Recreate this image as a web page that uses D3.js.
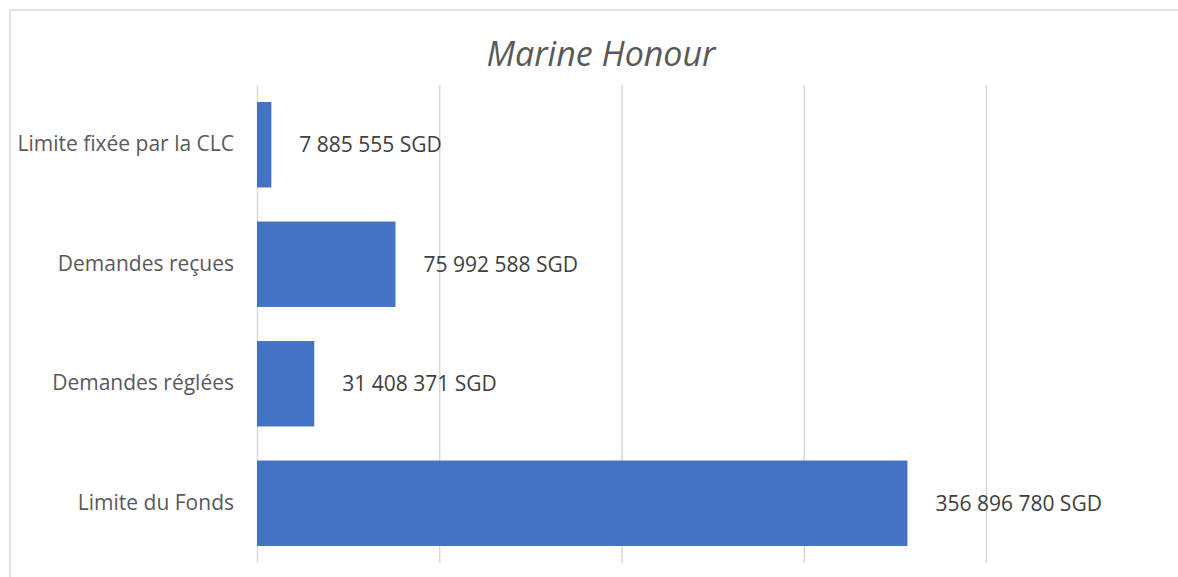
<!DOCTYPE html>
<html>
<head>
<meta charset="utf-8">
<script src="https://cdn.jsdelivr.net/npm/d3@7"></script>
<style>
  body { margin: 0; background: #fff; }
  svg { display: block; font-family: "Open Sans", sans-serif; }
</style>
</head>
<body>
<svg id="chart" width="1178" height="577"></svg>
<script>
// chart data
const title = "Marine Honour";
const categories = ["Limite fixée par la CLC", "Demandes reçues", "Demandes réglées", "Limite du Fonds"];
const values = [7885555, 75992588, 31408371, 356896780];
const tickValues = [0, 100000000, 200000000, 300000000, 400000000];

const width = 1178, height = 577;
const margin = { top: 85, right: 192, bottom: 14, left: 257 };

const svg = d3.select("#chart");

// outer frame of the chart area
svg.append("rect")
  .attr("x", 10).attr("y", 10)
  .attr("width", width + 10).attr("height", height + 10)
  .attr("fill", "none")
  .attr("stroke", "#d9d9d9")
  .attr("stroke-width", 1.5);

const x = d3.scaleLinear()
  .domain([0, 400000000])
  .range([margin.left, width - margin.right]);

const y = d3.scaleBand()
  .domain(categories)
  .range([margin.top, height - margin.bottom])
  .paddingInner(0.285)
  .paddingOuter(0.1425);

// vertical gridlines (no tick labels)
svg.append("g")
  .attr("transform", "translate(0," + margin.top + ")")
  .call(d3.axisBottom(x).tickValues(tickValues).tickSize(height - margin.bottom - margin.top).tickFormat(""))
  .call(g => g.select(".domain").remove())
  .call(g => g.selectAll("line").attr("stroke", "#d9d9d9").attr("stroke-width", 1.5));

// bars
svg.append("g").selectAll("rect")
  .data(values)
  .enter()
  .append("rect")
  .attr("x", x(0))
  .attr("y", (d, i) => y(categories[i]))
  .attr("width", d => x(d) - x(0))
  .attr("height", y.bandwidth())
  .attr("fill", "#4472c4");

// category labels
svg.append("g")
  .attr("transform", "translate(" + (margin.left - 23) + ",0)")
  .call(d3.axisLeft(y).tickSize(0).tickPadding(0))
  .call(g => g.select(".domain").remove())
  .call(g => g.selectAll("text")
    .attr("font-family", "Open Sans")
    .attr("font-size", 21)
    .attr("fill", "#595959"));

// value labels
const fmt = d3.formatLocale({ decimal: ",", thousands: "\u00a0", grouping: [3], currency: ["", " SGD"] }).format("$,");
svg.append("g").selectAll("text")
  .data(values)
  .enter()
  .append("text")
  .attr("x", d => x(d) + 28)
  .attr("y", (d, i) => y(categories[i]) + y.bandwidth() / 2)
  .attr("dy", "0.35em")
  .attr("font-size", 21)
  .attr("fill", "#404040")
  .text(d => fmt(d));

// title
svg.append("text")
  .attr("x", 601)
  .attr("y", 66)
  .attr("text-anchor", "middle")
  .attr("font-size", 34)
  .attr("font-style", "italic")
  .attr("fill", "#595959")
  .text(title);
</script>
</body>
</html>
